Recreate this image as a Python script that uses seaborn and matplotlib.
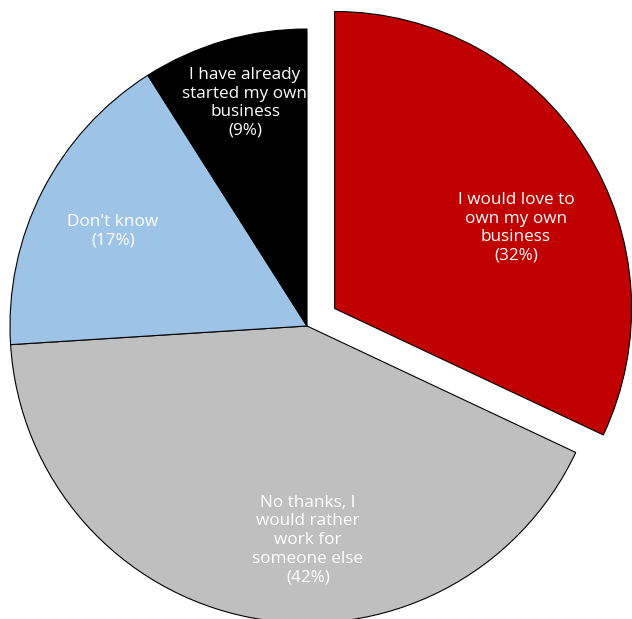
import matplotlib
matplotlib.use("Agg")
import matplotlib.pyplot as plt
import seaborn as sns

categories = ["I would love to\nown my own\nbusiness",
              "No thanks, I\nwould rather\nwork for\nsomeone else",
              "Don't know",
              "I have already\nstarted my own\nbusiness"]
values = [32, 42, 17, 9]
colors = ["#C00000", "#BFBFBF", "#9DC3E6", "#000000"]

sns.set_style("white")
plt.rcParams['font.family'] = ['Open Sans', 'DejaVu Sans']

W, H = 632, 619
fig = plt.figure(figsize=(W / 100, H / 100), dpi=100)
ax = fig.add_axes([0, 0, 1, 1])

cx, cy, r = 307, 326, 297  # pixel geometry of the pie
explode = [0.11, 0, 0, 0]
wedges, _ = ax.pie(values, colors=sns.color_palette(colors), startangle=90,
                   counterclock=False, explode=explode, radius=1,
                   wedgeprops=dict(edgecolor="black", linewidth=0.8))

ax.set_aspect("auto")
ax.set_xlim(-cx / r, (W - cx) / r)
ax.set_ylim(-(H - cy) / r, cy / r)
ax.axis("off")

label_px = [(516, 228), (308, 540), (113, 231), (245, 103)]
for cat, v, (px, py) in zip(categories, values, label_px):
    ax.text((px - cx) / r, (cy - py) / r, f"{cat}\n({v}%)", ha="center",
            va="center", color="white", fontsize=12.3, linespacing=1.22)

fig.savefig("out.png", dpi=100)
